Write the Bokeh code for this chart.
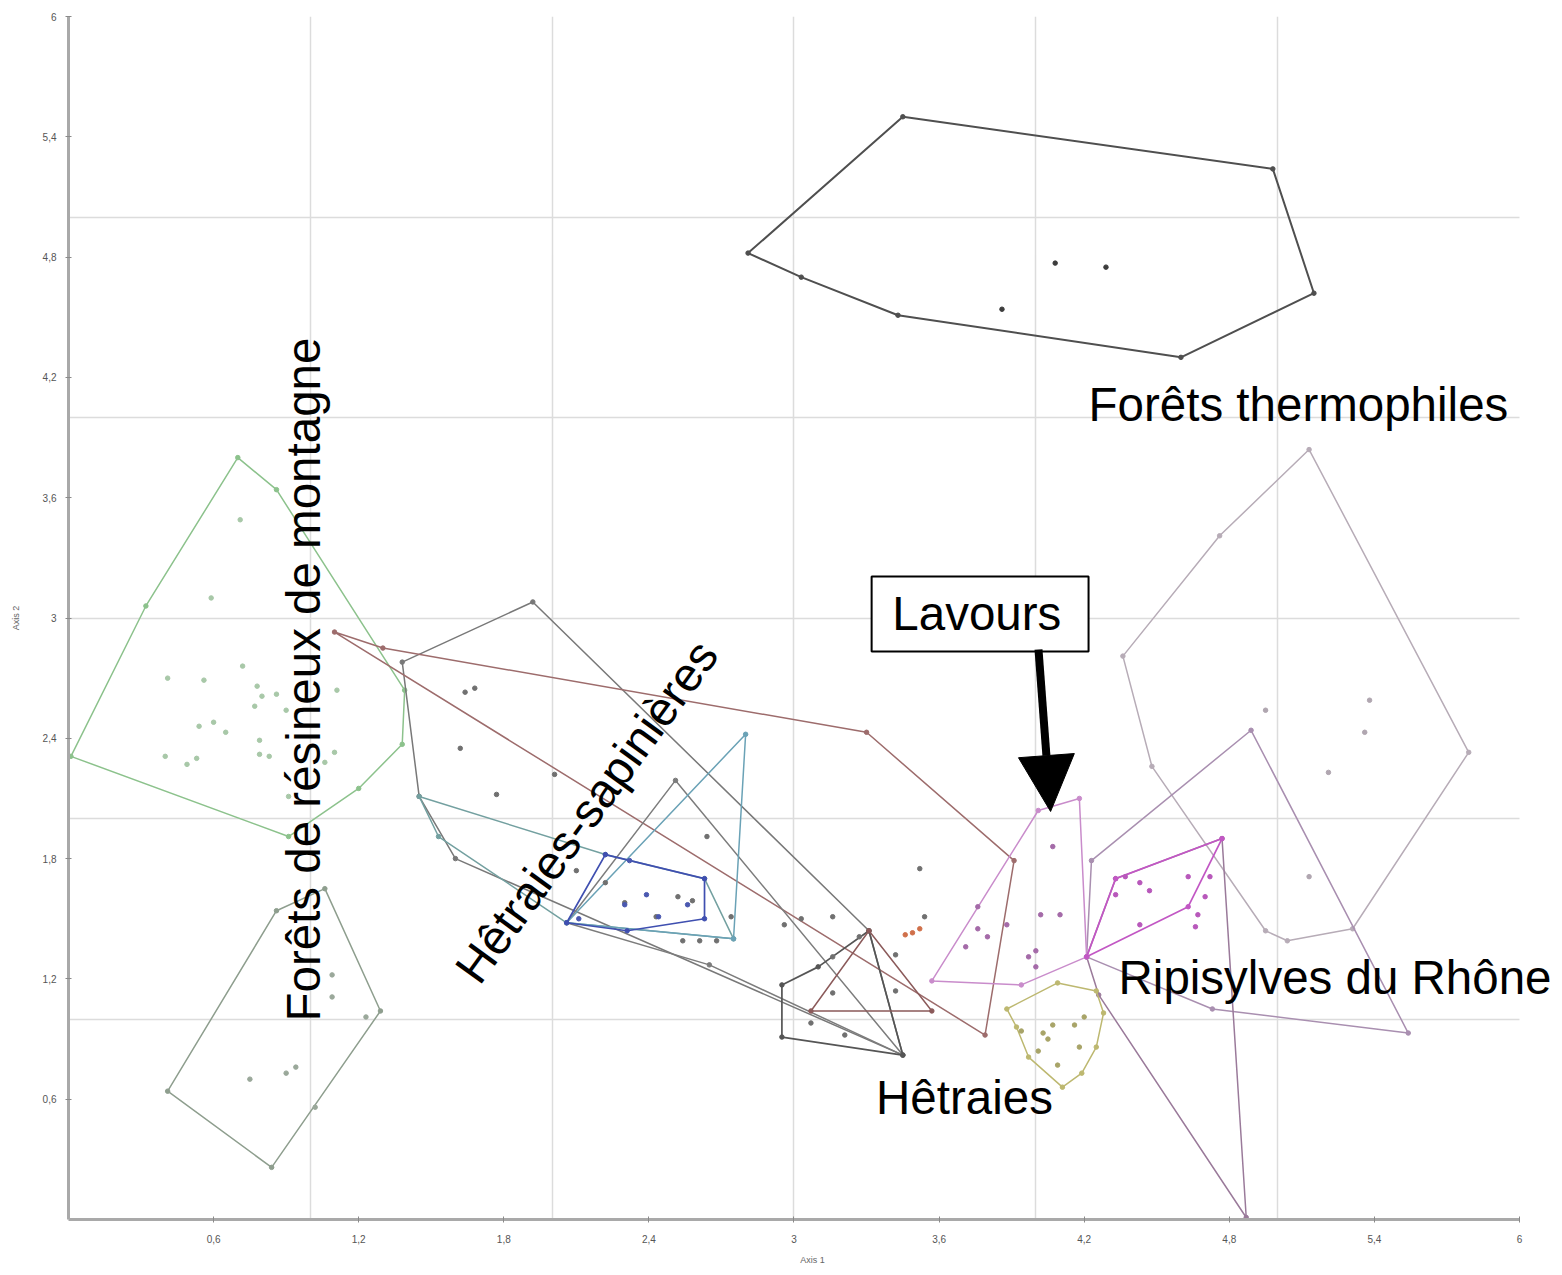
import numpy as np
from bokeh.plotting import figure
from bokeh.models import (Range1d, FixedTicker, CustomJSTickFormatter, Label,
                          BoxAnnotation, Arrow, NormalHead)
from bokeh.embed import file_html
from bokeh.resources import INLINE

# ---------------- data (Axis 1 / Axis 2 coordinates) ----------------
tick_values = [0.6, 1.2, 1.8, 2.4, 3, 3.6, 4.2, 4.8, 5.4, 6]
grid_x = [1, 2, 3, 4, 5]
grid_y = [1, 2, 3, 4, 5, 6]

# Forêts thermophiles
thermo_x = [2.81, 3.45, 4.98, 5.15, 4.60, 3.43, 3.03]
thermo_y = [4.82, 5.50, 5.24, 4.62, 4.30, 4.51, 4.70]
thermo_px = [4.08, 4.29, 3.86]
thermo_py = [4.77, 4.75, 4.54]

# Forêts de résineux de montagne
resineux_x = [0.01, 0.32, 0.70, 0.86, 1.39, 1.38, 1.20, 0.91]
resineux_y = [2.31, 3.06, 3.80, 3.64, 2.64, 2.37, 2.15, 1.91]
resineux_px = [0.71, 0.59, 0.41, 0.56, 0.72, 0.78, 0.80, 0.86, 0.77, 0.90, 0.54, 0.60,
               0.65, 0.40, 0.49, 0.53, 0.79, 0.79, 0.83, 1.11, 1.10, 0.91, 1.06]
resineux_py = [3.49, 3.10, 2.70, 2.69, 2.76, 2.66, 2.61, 2.62, 2.56, 2.54, 2.46, 2.48,
               2.43, 2.31, 2.27, 2.30, 2.39, 2.32, 2.31, 2.64, 2.33, 2.11, 2.28]

# lower-left group
low_x = [0.41, 0.86, 1.06, 1.29, 0.84]
low_y = [0.64, 1.54, 1.65, 1.04, 0.26]
low_px = [0.75, 0.90, 0.94, 1.09, 1.09, 1.23, 1.02]
low_py = [0.70, 0.73, 0.76, 1.22, 1.11, 1.01, 0.56]

# large right group
big_x = [5.13, 5.79, 5.31, 5.04, 4.95, 4.48, 4.36, 4.76]
big_y = [3.84, 2.33, 1.45, 1.39, 1.44, 2.26, 2.81, 3.41]
big_px = [4.95, 5.38, 5.36, 5.21, 5.13]
big_py = [2.54, 2.59, 2.43, 2.23, 1.71]

# Ripisylves du Rhône
rhone_a_x = [4.23, 4.89, 5.54, 4.73, 4.21]
rhone_a_y = [1.79, 2.44, 0.93, 1.05, 1.31]
rhone_b_x = [4.33, 4.77, 4.87, 4.26, 4.21]
rhone_b_y = [1.70, 1.90, 0.01, 1.12, 1.31]
rhone_x = [4.21, 4.33, 4.77, 4.63]
rhone_y = [1.31, 1.70, 1.90, 1.56]
rhone_px = [4.37, 4.43, 4.47, 4.63, 4.72, 4.70, 4.67, 4.66, 4.43, 4.33]
rhone_py = [1.71, 1.68, 1.64, 1.71, 1.71, 1.61, 1.52, 1.46, 1.47, 1.62]

# Lavours
lav_x = [3.57, 4.01, 4.18, 4.21, 3.94]
lav_y = [1.19, 2.04, 2.10, 1.31, 1.17]
lav_px = [4.07, 3.76, 3.80, 3.88, 3.71, 4.02, 4.10, 3.97, 4.00, 4.00, 3.76]
lav_py = [1.86, 1.45, 1.41, 1.47, 1.36, 1.52, 1.52, 1.31, 1.34, 1.26, 1.56]

# olive group
olive_x = [3.88, 4.09, 4.25, 4.28, 4.25, 4.19, 4.11, 3.97, 3.92]
olive_y = [1.05, 1.18, 1.14, 1.03, 0.86, 0.73, 0.66, 0.81, 0.96]
olive_px = [3.94, 4.03, 4.05, 4.16, 4.20, 4.18, 4.09, 4.01, 4.07]
olive_py = [0.94, 0.93, 0.90, 0.97, 1.01, 0.86, 0.77, 0.84, 0.97]

# Hêtraies-sapinières and neighbours
hs_x = [1.38, 1.92, 3.31, 3.45, 1.60, 1.45]
hs_y = [2.78, 3.08, 1.44, 0.82, 1.80, 2.11]
br_x = [1.10, 1.30, 3.30, 3.91, 3.79]
br_y = [2.93, 2.85, 2.43, 1.79, 0.92]
tg_x = [1.45, 2.22, 2.63, 2.75, 2.06, 1.53]
tg_y = [2.11, 1.82, 1.70, 1.40, 1.48, 1.91]
tl_x = [2.06, 2.80, 2.75]
tl_y = [1.48, 2.42, 1.40]
bl_x = [2.06, 2.22, 2.63, 2.63, 2.31]
bl_y = [1.48, 1.82, 1.70, 1.50, 1.44]
bl_px = [2.11, 2.30, 2.44, 2.32, 2.39, 2.56]
bl_py = [1.50, 1.57, 1.51, 1.79, 1.62, 1.57]
g2_x = [2.06, 2.51, 3.45, 2.65]
g2_y = [1.48, 2.19, 0.82, 1.27]

# Hêtraies
het_x = [2.95, 3.10, 3.31, 3.45, 2.95]
het_y = [1.17, 1.26, 1.44, 0.82, 0.91]
br2_x = [3.07, 3.31, 3.57]
br2_y = [1.04, 1.44, 1.04]

mid_px = [1.64, 1.68, 1.62, 1.77, 2.01, 2.10, 2.22, 2.30, 2.43, 2.52, 2.58, 2.64, 2.54, 2.61,
          2.68, 2.74, 3.52, 3.54, 3.03, 2.96, 3.16, 3.27, 3.16, 3.42, 3.42, 3.16, 3.07, 3.21]
mid_py = [2.63, 2.65, 2.35, 2.12, 2.22, 1.74, 1.68, 1.58, 1.51, 1.61, 1.59, 1.91, 1.39, 1.39,
          1.39, 1.51, 1.75, 1.51, 1.50, 1.47, 1.51, 1.41, 1.31, 1.32, 1.14, 1.13, 0.98, 0.92]
orange_px = [3.46, 3.49, 3.52]
orange_py = [1.42, 1.43, 1.45]

# ---------------- figure ----------------
# frame extends a little beyond x=6 so the right-hand caption is not cut
p = figure(width=1558, height=1269, x_range=Range1d(0, 6.153), y_range=Range1d(0, 6),
           output_backend="svg", toolbar_location=None,
           min_border_left=68, min_border_right=2, min_border_top=16, min_border_bottom=50,
           x_axis_label="Axis 1", y_axis_label="Axis 2")
p.outline_line_color = None
p.background_fill_color = "white"

fmt = CustomJSTickFormatter(code="return (Math.round(tick*10)/10).toString().replace('.', ',');")
for ax in (p.xaxis[0], p.yaxis[0]):
    ax.ticker = FixedTicker(ticks=tick_values)
    ax.formatter = fmt
    ax.bounds = (0, 6)
    ax.axis_line_color = "#a9a9a9"
    ax.axis_line_width = 3
    ax.major_tick_line_color = "#8a8a8a"
    ax.major_tick_in = 3
    ax.major_tick_out = 3
    ax.minor_tick_line_color = None
    ax.major_label_text_font = "Liberation Sans"
    ax.major_label_text_font_size = "10px"
    ax.major_label_text_color = "#555555"
    ax.axis_label_text_font = "Liberation Sans"
    ax.axis_label_text_font_size = "9px"
    ax.axis_label_text_font_style = "normal"
    ax.axis_label_text_color = "#666666"
p.xaxis[0].major_label_standoff = 12
p.xaxis[0].axis_label_standoff = 9
p.yaxis[0].major_label_standoff = 9
p.yaxis[0].axis_label_standoff = 19

p.xgrid.ticker = FixedTicker(ticks=grid_x)
p.ygrid.ticker = FixedTicker(ticks=grid_y)
p.xgrid.bounds = (0, 6)
p.ygrid.bounds = (0, 6)
p.xgrid.cross_bounds = (0, 6)
p.ygrid.cross_bounds = (0, 6)
for g in (p.xgrid[0], p.ygrid[0]):
    g.grid_line_color = "#dcdcdc"
    g.grid_line_width = 1.5

polygons = [
    (resineux_x, resineux_y, "#8cc28c", 1.5),
    (low_x, low_y, "#8e9e8e", 1.5),
    (big_x, big_y, "#b7acb7", 1.5),
    (rhone_a_x, rhone_a_y, "#a98fb0", 1.5),
    (rhone_b_x, rhone_b_y, "#9a7a9a", 1.5),
    (olive_x, olive_y, "#bdb870", 1.5),
    (hs_x, hs_y, "#787878", 1.5),
    (br_x, br_y, "#9d6c6c", 1.5),
    (tg_x, tg_y, "#73a0a0", 1.5),
    (g2_x, g2_y, "#7c7c7c", 1.5),
    (tl_x, tl_y, "#6aa2b6", 1.5),
    (bl_x, bl_y, "#3f4fb0", 1.7),
    (het_x, het_y, "#555555", 1.7),
    (br2_x, br2_y, "#8b5a5a", 1.5),
    (lav_x, lav_y, "#c98ccb", 1.5),
    (rhone_x, rhone_y, "#c257c4", 1.7),
    (thermo_x, thermo_y, "#4f4f4f", 2.0),
]
for gx, gy, col, lw in polygons:
    p.line(gx + gx[:1], gy + gy[:1], line_color=col, line_width=lw)
    p.scatter(gx, gy, size=4.5, color=col)

points = [
    (resineux_px, resineux_py, "#a8c8a8"),
    (low_px, low_py, "#9aa89a"),
    (big_px, big_py, "#b0a6b0"),
    (mid_px, mid_py, "#707070"),
    (bl_px, bl_py, "#4a58b0"),
    (olive_px, olive_py, "#a8a468"),
    (orange_px, orange_py, "#d0704a"),
    (lav_px, lav_py, "#a46aa8"),
    (rhone_px, rhone_py, "#b858bb"),
    (thermo_px, thermo_py, "#3c3c3c"),
]
for gx, gy, col in points:
    p.scatter(gx, gy, size=4.5, color=col)

# ---------------- annotations ----------------
font = "Liberation Sans"
fs = "47.5px"
txt = dict(text_font=font, text_font_size=fs, text_color="black", text_baseline="middle")
p.add_layout(Label(x=4.218, y=4.065, text="Forêts thermophiles", text_align="left", **txt))
p.add_layout(Label(x=0.972, y=2.693, text="Forêts de résineux de montagne",
                   text_align="center", angle=np.pi / 2, **txt))
p.add_layout(Label(x=2.142, y=2.035, text="Hêtraies-sapinières", text_align="center",
                   angle=np.deg2rad(54), **txt))
p.add_layout(Label(x=3.705, y=0.608, text="Hêtraies", text_align="center", **txt))
p.add_layout(Label(x=4.342, y=1.207, text="Ripisylves du Rhône", text_align="left", **txt))

p.add_layout(BoxAnnotation(left=3.321, right=4.218, top=3.207, bottom=2.833,
                           fill_color="white", fill_alpha=1.0,
                           line_color="black", line_width=2, line_alpha=1.0))
p.add_layout(Label(x=3.756, y=3.02, text="Lavours", text_align="center", **txt))
p.add_layout(Arrow(end=NormalHead(size=56, fill_color="black", line_color="black"),
                   x_start=4.011, y_start=2.843, x_end=4.061, y_end=2.035,
                   line_width=8, line_color="black"))

open("out.html", "w").write(file_html(p, INLINE))
